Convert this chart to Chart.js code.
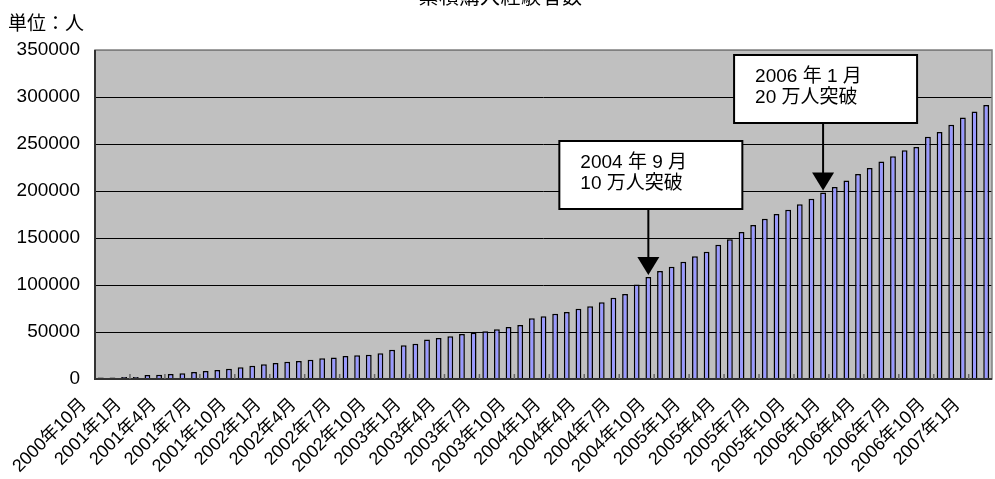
<!DOCTYPE html>
<html>
<head>
<meta charset="utf-8">
<script src="https://cdn.jsdelivr.net/npm/chart.js@4.4.1/dist/chart.umd.min.js"></script>
<style>
  html, body { margin: 0; padding: 0; background: #fff; overflow: hidden; }
  #wrap { position: relative; width: 995px; height: 479px; }
  #chart { position: absolute; left: 0; top: 0; }
  .title { position: absolute; left: 3px; width: 995px; top: -19px; text-align: center;
           font: 20px "Liberation Sans", "Noto Sans CJK JP", sans-serif; letter-spacing: 0.5px; }
  .unit { position: absolute; left: 8px; top: 8px;
          font: 19px "Liberation Sans", "Noto Sans CJK JP", sans-serif; }
</style>
</head>
<body>
<div id="wrap">
  <canvas id="chart" width="995" height="479"></canvas>
  <div class="title">累積購入経験者数</div>
  <div class="unit">単位：人</div>
</div>
<script>
// months 2000年10月 .. 2007年2月
const months = [];
for (let y = 2000, m = 10; months.length < 77; m++) {
    if (m > 12) { m = 1; y++; }
    months.push(y + "年" + m + "月");
}

// cumulative buyers
const buyers = [
    1500, 1600, 2000, 2200, 4300, 4600, 5300, 6000, 7400, 8500,
    9600, 11000, 12400, 14200, 15600, 17000, 18400, 19100, 20600, 22000,
    23000, 24500, 25200, 25800, 27500, 31200, 35800, 37600, 42000, 43600,
    45400, 47900, 49300, 50700, 52800, 55300, 57400, 64500, 66700, 69500,
    71300, 74800, 77300, 81600, 86500, 90400, 100500, 108500, 114900, 119500,
    124800, 130500, 135500, 142900, 148600, 156400, 163800, 170600, 175500, 180100,
    185800, 191800, 198300, 204200, 211200, 218200, 224500, 231500, 237100, 243400,
    246900, 257700, 262700, 270400, 278200, 284500, 291600
];

const yTicks = [0, 50000, 100000, 150000, 200000, 250000, 300000, 350000];

// callouts: which bar the arrow points at, and the text
const noteAt = ["2004年9月", "2005年12月"];
const noteText = [
    ["2004 年 9 月", "10 万人突破"],
    ["2006 年 1 月", "20 万人突破"]
];

const FONT = '"Liberation Sans", "Noto Sans CJK JP", sans-serif';
Chart.defaults.font.family = FONT;
Chart.defaults.font.size = 18;
Chart.defaults.color = "#000";

const plotDeco = {
    id: "plotDeco",
    beforeDraw(chart) {
        const { ctx, chartArea: a } = chart;
        ctx.save();
        ctx.fillStyle = "#C0C0C0";
        ctx.fillRect(a.left, a.top, a.right - a.left, a.bottom - a.top);
        ctx.restore();
    },
    afterDraw(chart) {
        const { ctx, chartArea: a, scales } = chart;
        const x = scales.x, y = scales.y;
        const step = x.getPixelForValue(1) - x.getPixelForValue(0);
        ctx.save();
        // plot border
        ctx.strokeStyle = "#808080";
        ctx.lineWidth = 1.5;
        ctx.strokeRect(a.left, a.top, a.right - a.left, a.bottom - a.top);
        // axes
        ctx.strokeStyle = "#333";
        ctx.lineWidth = 2;
        ctx.beginPath();
        ctx.moveTo(a.left, a.top);
        ctx.lineTo(a.left, a.bottom);
        ctx.lineTo(a.right, a.bottom);
        ctx.stroke();
        // small inside ticks every 3 categories
        ctx.strokeStyle = "#666";
        ctx.lineWidth = 1.5;
        for (let i = 3; i < months.length; i += 3) {
            const px = x.getPixelForValue(i) - step / 2;
            ctx.beginPath();
            ctx.moveTo(px, a.bottom);
            ctx.lineTo(px, a.bottom - 5);
            ctx.stroke();
        }
        // callouts
        const tops = [141, 55];
        noteAt.forEach((lab, k) => {
            const i = months.indexOf(lab);
            const ax = x.getPixelForValue(i);
            const tipY = y.getPixelForValue(buyers[i]) - 2;
            const bx = ax - 89, by = tops[k], bw = 183, bh = 68;
            ctx.fillStyle = "#fff";
            ctx.fillRect(bx, by, bw, bh);
            ctx.strokeStyle = "#000";
            ctx.lineWidth = 2;
            ctx.strokeRect(bx, by, bw, bh);
            ctx.beginPath();
            ctx.moveTo(ax, by + bh);
            ctx.lineTo(ax, tipY - 16);
            ctx.stroke();
            ctx.fillStyle = "#000";
            ctx.beginPath();
            ctx.moveTo(ax, tipY);
            ctx.lineTo(ax - 11, tipY - 18);
            ctx.lineTo(ax + 11, tipY - 18);
            ctx.closePath();
            ctx.fill();
            ctx.font = "19px " + FONT;
            ctx.textBaseline = "middle";
            ctx.textAlign = "left";
            ctx.fillText(noteText[k][0], bx + 21, by + 22);
            ctx.fillText(noteText[k][1], bx + 21, by + 43);
        });
        ctx.restore();
    }
};

new Chart(document.getElementById("chart"), {
    type: "bar",
    data: {
        labels: months,
        datasets: [{
            data: buyers,
            backgroundColor: "#9999FF",
            borderColor: "#000",
            borderWidth: 1.5,
            categoryPercentage: 1,
            barPercentage: 0.5
        }]
    },
    options: {
        responsive: false,
        animation: false,
        layout: { autoPadding: false, padding: { top: 50, right: 3, left: 0, bottom: 0 } },
        plugins: { legend: { display: false }, tooltip: { enabled: false } },
        scales: {
            x: {
                grid: { display: false },
                border: { display: false },
                ticks: {
                    autoSkip: false,
                    minRotation: 45,
                    maxRotation: 45,
                    labelOffset: -17,
                    padding: 7,
                    font: { size: 18 },
                    callback: (v, i) => (i % 3 === 0 ? months[i] : "")
                },
                afterFit: (s) => { s.height = 100; s.paddingLeft = 0; s.paddingRight = 0; }
            },
            y: {
                min: 0,
                max: 350000,
                afterBuildTicks: (s) => { s.ticks = yTicks.map((v) => ({ value: v })); },
                grid: {
                    color: (c) => (c.tick && c.tick.value === 350000 ? "#808080" : "#000"),
                    lineWidth: 1,
                    drawTicks: false
                },
                border: { display: false },
                ticks: { padding: 15, font: { size: 19 }, callback: (v) => String(v) },
                afterFit: (s) => { s.width = 95; s.paddingTop = 0; s.paddingBottom = 0; }
            }
        }
    },
    plugins: [plotDeco]
});
</script>
</body>
</html>
